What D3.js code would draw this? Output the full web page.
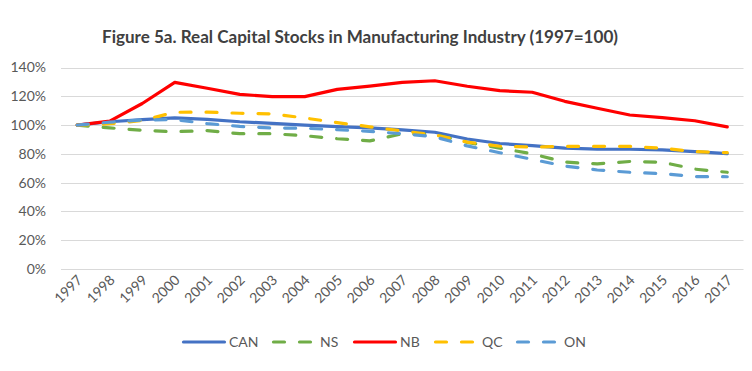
<!DOCTYPE html>
<html><head><meta charset="utf-8">
<script src="https://cdn.jsdelivr.net/npm/d3@7"></script>
<style>body{margin:0;background:#fff}svg{display:block}</style>
</head><body>
<script>
const years = d3.range(1997, 2018).map(String);
const CAN = [100,102.3,103.8,105,104,102.3,101.2,100,98.9,98,96.6,95,90.3,87.2,85.7,84,83.3,83.2,82.8,81.5,80.1];
const NS  = [100,98,96.4,95.4,96.2,94,94,92.6,90.5,89,94,93.5,88,84,80,74.3,73,74.7,74.2,69.4,67.2];
const NB  = [100,102.8,115,129.7,125.6,121.3,119.8,119.8,124.8,127,129.7,130.8,127,123.9,122.8,116.5,111.7,107,105.2,103,98.7];
const QC  = [100,100.9,103.2,108.9,109,108.2,107.8,104.9,101.7,98.8,95.9,93.2,88.2,85.3,84.7,85.2,85.2,85.2,83.9,81.6,80.8];
const ON  = [100,102,103.6,103.8,101,99.1,98,97.8,96.8,95.6,94,91.8,85.5,80.8,76.2,71.5,68.8,67.2,66.3,64.2,64.1];
const yTicks = [0,0.2,0.4,0.6,0.8,1.0,1.2,1.4];
const seriesNames = ["CAN","NS","NB","QC","ON"];
const seriesData = [CAN, NS, NB, QC, ON];

const W = 752, H = 371;
const colors = {CAN:"#4472C4", NS:"#70AD47", NB:"#FF0000", QC:"#FFC000", ON:"#5B9BD5"};
const dashed = {CAN:false, NS:true, NB:false, QC:true, ON:true};
const font = "Lato, 'Open Sans', sans-serif";

const svg = d3.select("body").append("svg").attr("width", W).attr("height", H);

const x = d3.scaleBand().domain(years).range([61, 743.5]);
const y = d3.scaleLinear().domain([0, 1.4]).range([269, 67.5]);
const cx = d => x(d) + x.bandwidth()/2;

// gridlines
svg.append("g").selectAll("line").data(yTicks).join("line")
  .attr("x1", 61).attr("x2", 743.5)
  .attr("y1", d => Math.round(y(d)) + 0.5).attr("y2", d => Math.round(y(d)) + 0.5)
  .attr("stroke", "#D9D9D9").attr("stroke-width", 1);

// y axis labels
const yAxis = svg.append("g").attr("transform", "translate(46,0)")
  .call(d3.axisLeft(y).tickValues(yTicks).tickFormat(d3.format(".0%")).tickSize(0).tickPadding(0));
yAxis.select(".domain").remove();
yAxis.selectAll("text").attr("font-family", font).attr("font-size", 14).attr("fill", "#595959");

// x axis labels
const xAxis = svg.append("g").attr("transform", "translate(0,269)")
  .call(d3.axisBottom(x).tickSize(0).tickPadding(0));
xAxis.select(".domain").remove();
xAxis.selectAll("text")
  .attr("font-family", font).attr("font-size", 14).attr("fill", "#595959")
  .attr("text-anchor", "end").attr("dy", null).attr("y", 0)
  .attr("transform", "translate(6,12) rotate(-45)");

// lines
const line = d3.line().x((d, i) => cx(years[i])).y(d => y(d / 100));
seriesNames.forEach((name, k) => {
  svg.append("path").datum(seriesData[k])
    .attr("d", line).attr("fill", "none")
    .attr("stroke", colors[name]).attr("stroke-width", 3.2)
    .attr("stroke-linecap", "round").attr("stroke-linejoin", "round")
    .attr("stroke-dasharray", dashed[name] ? "11,15" : null);
});

// title
const title = svg.append("text").attr("x", 360).attr("y", 43)
  .attr("text-anchor", "middle").attr("font-family", font).attr("font-weight", "bold")
  .attr("font-size", 16).attr("fill", "#404040")
  .text("Figure 5a. Real Capital Stocks in Manufacturing Industry (1997=100)");
const tl = title.node().getComputedTextLength();
title.attr("font-size", 16 * 516 / tl);

// legend
const legendX = {CAN:182, NS:272, NB:353, QC:434, ON:516};
const lg = svg.append("g");
seriesNames.forEach(name => {
  const x0 = legendX[name];
  lg.append("line").attr("x1", x0 + 1.5).attr("x2", x0 + 42.5).attr("y1", 342).attr("y2", 342)
    .attr("stroke", colors[name]).attr("stroke-width", 3.2).attr("stroke-linecap", "round")
    .attr("stroke-dasharray", dashed[name] ? "11,15" : null);
  lg.append("text").attr("x", x0 + (dashed[name] ? 48 : 47)).attr("y", 347)
    .attr("font-family", font).attr("font-size", 14).attr("fill", "#595959").text(name);
});
</script>
</body></html>
